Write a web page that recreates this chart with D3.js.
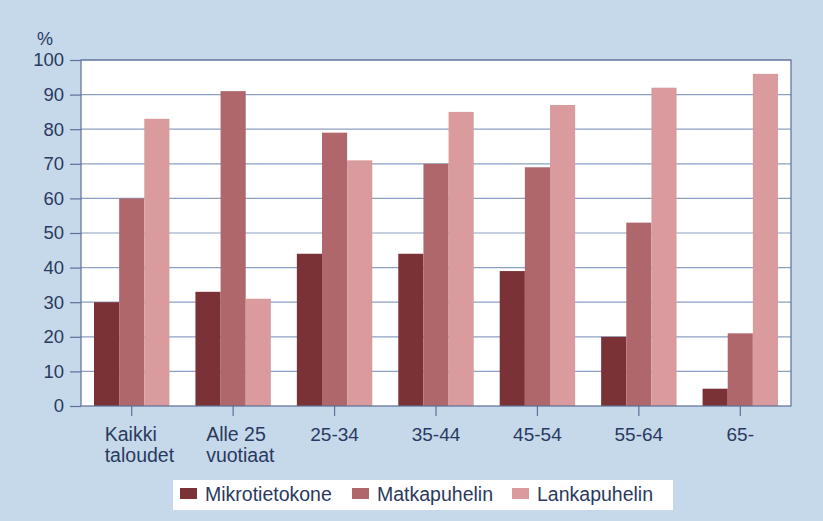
<!DOCTYPE html>
<html><head><meta charset="utf-8">
<script src="https://cdn.jsdelivr.net/npm/d3@7/dist/d3.min.js"></script>
<style>
html,body{margin:0;padding:0;background:#c6d9ea;}
svg{display:block;}
text{font-family:"Liberation Sans",Arial,sans-serif;fill:#2a3960;}
</style></head><body>
<svg id="c" width="823" height="521"></svg>
<script>
const categories = [["Kaikki","taloudet"],["Alle 25","vuotiaat"],["25-34"],["35-44"],["45-54"],["55-64"],["65-"]];
const seriesNames = ["Mikrotietokone","Matkapuhelin","Lankapuhelin"];
const mikrotietokone = [30,33,44,44,39,20,5];
const matkapuhelin = [60,91,79,70,69,53,21];
const lankapuhelin = [83,31,71,85,87,92,96];
const yTicks = [0,10,20,30,40,50,60,70,80,90,100];
const colors = ["#7b3237","#b0676b","#d99b9e"];

const series = [mikrotietokone, matkapuhelin, lankapuhelin];
const svg = d3.select("#c");
const m = {l:81, r:791, t:60, b:406};

svg.append("rect").attr("width",823).attr("height",521).attr("fill","#c6d9ea");
svg.append("rect").attr("x",m.l).attr("y",m.t).attr("width",m.r-m.l).attr("height",m.b-m.t).attr("fill","#ffffff");

const x = d3.scaleBand().domain(d3.range(categories.length)).range([m.l,m.r]).paddingInner(0).paddingOuter(0);
const xi = d3.scaleBand().domain(d3.range(series.length)).range([13,x.bandwidth()-13]).paddingInner(0).paddingOuter(0);
const y = d3.scaleLinear().domain([0,100]).range([m.b,m.t]);

// gridlines
svg.append("g").selectAll("line").data(yTicks.filter(d=>d>0)).join("line")
  .attr("x1",m.l).attr("x2",m.r).attr("y1",d=>y(d)).attr("y2",d=>y(d))
  .attr("stroke","#8d9fc2").attr("stroke-width",1.2);

// bars
series.forEach((s,si)=>{
  svg.append("g").selectAll("rect").data(s).join("rect")
    .attr("x",(d,i)=>x(i)+xi(si)).attr("width",xi.bandwidth())
    .attr("y",d=>y(d)).attr("height",d=>y(0)-y(d))
    .attr("fill",colors[si]);
});

// frame
svg.append("rect").attr("x",m.l).attr("y",m.t).attr("width",m.r-m.l).attr("height",m.b-m.t)
  .attr("fill","none").attr("stroke","#5d6f96").attr("stroke-width",1.2);

// y axis
const ya = svg.append("g").attr("transform",`translate(${m.l},0)`)
  .call(d3.axisLeft(y).tickValues(yTicks).tickSize(11).tickPadding(6));
ya.select(".domain").remove();
ya.selectAll("line").attr("stroke","#5d6f96").attr("stroke-width",1.2);
ya.selectAll("text").style("font-size","18.5px").attr("fill","#2a3960");

svg.append("text").attr("x",37).attr("y",45).style("font-size","18px").text("%");

// x axis
const xa = svg.append("g").attr("transform",`translate(0,${m.b})`)
  .call(d3.axisBottom(x).tickSize(10).tickFormat(""));
xa.select(".domain").remove();
xa.selectAll("line").attr("stroke","#5d6f96").attr("stroke-width",1.2);

const lab = svg.append("g");
categories.forEach((c,i)=>{
  const cx = x(i)+x.bandwidth()/2;
  if(c.length>1){
    c.forEach((t,j)=>{
      lab.append("text").attr("x",cx-27).attr("y",441+j*21).style("font-size","19.5px").text(t);
    });
  } else {
    lab.append("text").attr("x",cx).attr("y",441).attr("text-anchor","middle").style("font-size","19px").text(c[0]);
  }
});

// legend
svg.append("rect").attr("x",173).attr("y",480).attr("width",500).attr("height",30).attr("fill","#ffffff");
const lx = [180,352,512];
seriesNames.forEach((n,i)=>{
  svg.append("rect").attr("x",lx[i]).attr("y",488).attr("width",17).attr("height",11).attr("fill",colors[i]);
  svg.append("text").attr("x",lx[i]+25).attr("y",501).style("font-size","19.5px").text(n);
});
</script>
</body></html>
